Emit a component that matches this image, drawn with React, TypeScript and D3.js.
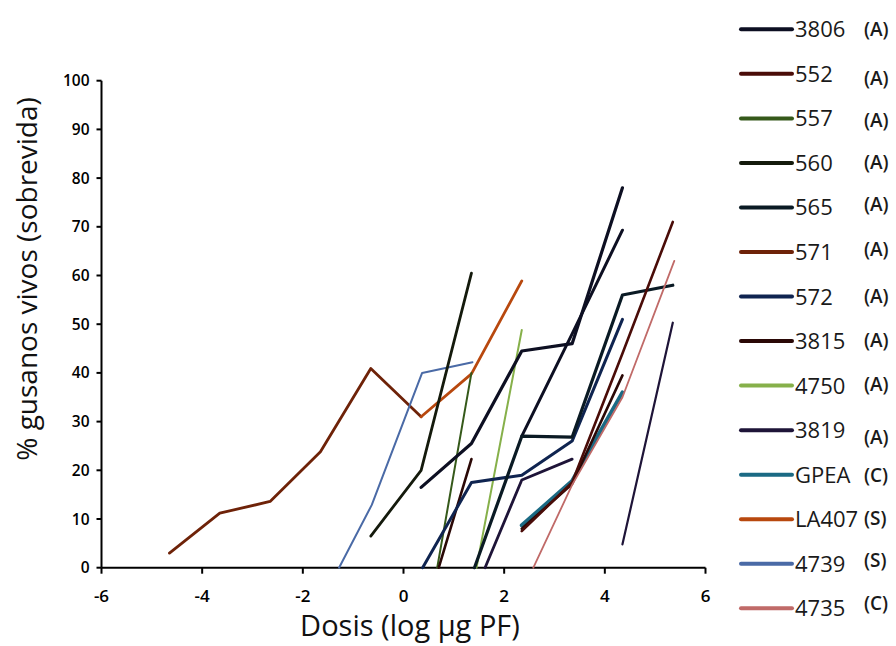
import React, { useEffect, useRef } from "react";
import * as d3 from "d3";

// legend entries, top to bottom
const strains = ["3806", "552", "557", "560", "565", "571", "572", "3815", "4750", "3819", "GPEA", "LA407", "4739", "4735"];
const groups = ["(A)", "(A)", "(A)", "(A)", "(A)", "(A)", "(A)", "(A)", "(A)", "(A)", "(C)", "(S)", "(S)", "(C)"];

const xTicks = [-6, -4, -2, 0, 2, 4, 6];
const yTicks = [0, 10, 20, 30, 40, 50, 60, 70, 80, 90, 100];

// survival curves, [log dose, % alive]
const c3806 = [[0.35, 16.5], [1.35, 25.5], [2.35, 44.5], [3.35, 46], [4.35, 78]];
const c3806b = [[2.35, 27], [3.35, 48], [4.35, 69.3]];
const c552 = [[2.35, 7.5], [3.35, 17.5], [4.35, 44], [5.35, 71]];
const c557 = [[0.67, 0], [1.35, 40]];
const c560 = [[-0.65, 6.5], [0.35, 20], [1.35, 60.5]];
const c565 = [[1.41, 0], [2.35, 27], [3.35, 26.8], [4.35, 56], [5.35, 58]];
const c571 = [[-4.65, 3], [-3.65, 11.2], [-2.65, 13.6], [-1.65, 23.8], [-0.65, 40.9], [0.35, 31]];
const c572 = [[0.38, 0], [1.35, 17.5], [2.35, 19], [3.35, 26], [4.35, 51]];
const c3815 = [[0.7, 0], [1.35, 22.3]];
const c3815b = [[2.35, 8], [3.35, 17.2], [4.35, 39.5]];
const c4750 = [[1.45, 0], [2.35, 48.8]];
const c3819 = [[4.35, 4.8], [5.35, 50.3]];
const c3819b = [[1.62, 0], [2.35, 18], [3.35, 22.3]];
const cGPEA = [[2.35, 8.7], [3.35, 17.8], [4.35, 36]];
const cLA407 = [[0.35, 31], [1.35, 39.8], [2.35, 58.9]];
const c4739 = [[-1.28, 0], [-0.63, 12.9], [0.37, 40], [1.37, 42.2]];
const c4735 = [[2.58, 0], [3.35, 17], [4.35, 35], [5.38, 63]];

const colors: Record<string, string> = {
  "3806": "#0d0f22",
  "552": "#4a0c08",
  "557": "#35591a",
  "560": "#141a0c",
  "565": "#0a1a24",
  "571": "#6e2208",
  "572": "#0f2450",
  "3815": "#2a0806",
  "4750": "#86b04a",
  "3819": "#1e1438",
  GPEA: "#1b6a84",
  LA407: "#b8480e",
  "4739": "#4a6aa6",
  "4735": "#c06a68",
};

const curves = [
  { key: "571", pts: c571, w: 2.8 },
  { key: "LA407", pts: cLA407, w: 2.8 },
  { key: "4739", pts: c4739, w: 2 },
  { key: "560", pts: c560, w: 2.8 },
  { key: "557", pts: c557, w: 2 },
  { key: "3815", pts: c3815, w: 2.6 },
  { key: "4750", pts: c4750, w: 2 },
  { key: "3806", pts: c3806, w: 3.2 },
  { key: "3806", pts: c3806b, w: 3 },
  { key: "572", pts: c572, w: 3 },
  { key: "3819", pts: c3819b, w: 2.8 },
  { key: "565", pts: c565, w: 3.2 },
  { key: "GPEA", pts: cGPEA, w: 4 },
  { key: "3815", pts: c3815b, w: 2.6 },
  { key: "552", pts: c552, w: 2.6 },
  { key: "4735", pts: c4735, w: 1.8 },
  { key: "3819", pts: c3819, w: 2.2 },
];

// small vertical nudges of the group tags, as in the original figure
const tagNudge = [0, 4, 2, -1, -3, -3, -1, -1, -2, 7, 0, -1, -4, -5];

const font = "'Open Sans', sans-serif";

const Chart = () => {
  const ref = useRef<SVGSVGElement>(null);

  useEffect(() => {
    const svg = d3.select(ref.current);
    svg.selectAll("*").remove();

    const x = d3.scaleLinear().domain([-6, 6]).range([101.5, 705.5]);
    const y = d3.scaleLinear().domain([0, 100]).range([567.7, 80.7]);

    const g = svg.append("g");

    // axes
    g.append("line")
      .attr("x1", x(-6)).attr("x2", x(-6))
      .attr("y1", y(100)).attr("y2", y(0))
      .attr("stroke", "#000").attr("stroke-width", 2);
    g.append("line")
      .attr("x1", x(-6)).attr("x2", x(6))
      .attr("y1", y(0)).attr("y2", y(0))
      .attr("stroke", "#000").attr("stroke-width", 2);

    g.selectAll(".yt")
      .data(yTicks)
      .enter()
      .append("line")
      .attr("x1", x(-6) - 5).attr("x2", x(-6))
      .attr("y1", (d) => y(d)).attr("y2", (d) => y(d))
      .attr("stroke", "#000").attr("stroke-width", 2);
    g.selectAll(".ytl")
      .data(yTicks)
      .enter()
      .append("text")
      .attr("x", x(-6) - 12)
      .attr("y", (d) => y(d) + 5.5)
      .attr("text-anchor", "end")
      .attr("font-family", font).attr("font-size", 15.5).attr("font-weight", 600)
      .text((d) => d);

    g.selectAll(".xt")
      .data(xTicks)
      .enter()
      .append("line")
      .attr("x1", (d) => x(d)).attr("x2", (d) => x(d))
      .attr("y1", y(0)).attr("y2", y(0) + 6)
      .attr("stroke", "#000").attr("stroke-width", 2);
    g.selectAll(".xtl")
      .data(xTicks)
      .enter()
      .append("text")
      .attr("x", (d) => x(d))
      .attr("y", 602)
      .attr("text-anchor", "middle")
      .attr("font-family", font).attr("font-size", 17).attr("font-weight", 600)
      .text((d) => d);

    // titles
    g.append("text")
      .attr("x", 410).attr("y", 636)
      .attr("text-anchor", "middle")
      .attr("font-family", font).attr("font-size", 29)
      .attr("fill", "#111")
      .text("Dosis (log µg PF)");
    g.append("text")
      .attr("transform", "translate(37,279) rotate(-90)")
      .attr("text-anchor", "middle")
      .attr("font-family", font).attr("font-size", 28)
      .attr("fill", "#111")
      .text("% gusanos vivos (sobrevida)");

    // curves
    const line = d3.line<number[]>().x((d) => x(d[0])).y((d) => y(d[1]));
    g.selectAll(".curve")
      .data(curves)
      .enter()
      .append("path")
      .attr("d", (d) => line(d.pts))
      .attr("fill", "none")
      .attr("stroke", (d) => colors[d.key])
      .attr("stroke-width", (d) => d.w)
      .attr("stroke-linecap", "round")
      .attr("stroke-linejoin", "round");

    // legend
    const ly = d3.scaleLinear().domain([0, strains.length - 1]).range([29.3, 608.3]);
    const leg = g.selectAll(".leg").data(strains).enter().append("g");
    leg.append("line")
      .attr("x1", 741).attr("x2", 792)
      .attr("y1", (_, i) => ly(i)).attr("y2", (_, i) => ly(i))
      .attr("stroke", (d) => colors[d])
      .attr("stroke-width", 4)
      .attr("stroke-linecap", "round");
    const labels = leg.append("text")
      .attr("x", 795)
      .attr("y", (_, i) => ly(i) + 8)
      .attr("font-family", font).attr("font-size", 22)
      .attr("fill", "#1a1a1a")
      .text((d) => d);
    const ends = labels.nodes().map((n) => 795 + (n as SVGTextElement).getComputedTextLength());
    leg.append("text")
      .attr("x", (_, i) => Math.max(864, ends[i] + 3))
      .attr("y", (_, i) => ly(i) + 7 + tagNudge[i])
      .attr("font-family", font).attr("font-size", 19).attr("font-weight", 600)
      .attr("fill", "#1a1a1a")
      .text((_, i) => groups[i]);
  }, []);

  return (
    <svg
      ref={ref}
      width={896}
      height={646}
      style={{ position: "absolute", left: 0, top: 0, background: "#fff" }}
    />
  );
};

export default function App() {
  return <Chart />;
}
